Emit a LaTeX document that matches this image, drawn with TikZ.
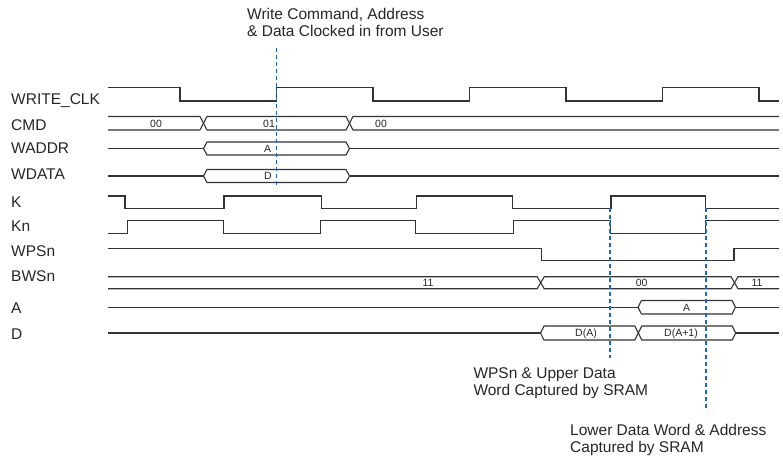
\documentclass[tikz,border=0pt]{standalone}
\usepackage{fontspec}
\setmainfont{Liberation Sans}
\definecolor{sigc}{HTML}{333333}
\definecolor{txtc}{HTML}{262626}
\definecolor{markc}{RGB}{25,105,195}
\newcommand{\hexbus}[4]{% x1, x2, ytop, ybot : closed bus segment
  \draw[sig] (#1,{(#3+#4)/2}) -- ({#1+3.5},#3) -- ({#2-3.5},#3) -- (#2,{(#3+#4)/2})
    -- ({#2-3.5},#4) -- ({#1+3.5},#4) -- cycle;}
\newcommand{\lbus}[4]{% open at left
  \draw[sig] (#1,#3) -- ({#2-3.5},#3) -- (#2,{(#3+#4)/2}) -- ({#2-3.5},#4) -- (#1,#4);}
\newcommand{\rbus}[4]{% open at right
  \draw[sig] (#2,#3) -- ({#1+3.5},#3) -- (#1,{(#3+#4)/2}) -- ({#1+3.5},#4) -- (#2,#4);}
\begin{document}
\begin{tikzpicture}[x=1pt,y=-1pt,
  sig/.style={draw=sigc, line width=1.1pt, line join=miter},
  lbl/.style={anchor=base west, inner sep=0pt, text=txtc, font=\fontsize{15.5}{17}\selectfont},
  note/.style={anchor=base west, inner sep=0pt, text=txtc, font=\fontsize{15.5}{17}\selectfont},
  blbl/.style={anchor=base, inner sep=0pt, text=txtc, font=\fontsize{10.5}{12}\selectfont},
  marker/.style={draw=markc, line width=1.3pt, dash pattern=on 4pt off 3pt}]
\useasboundingbox (0,0) rectangle (783,456);

% ---------- signal names ----------
\node[lbl] (nclk)  at (11,104.5) {WRITE\_CLK};
\node[lbl] (ncmd)  at (11,130.5) {CMD};
\node[lbl] (nwad)  at (11,153.5) {WADDR};
\node[lbl] (nwda)  at (11,179)   {WDATA};
\node[lbl] (nk)    at (11,207.3) {K};
\node[lbl] (nkn)   at (11,231.5) {Kn};
\node[lbl] (nwps)  at (11,256.5) {WPSn};
\node[lbl] (nbws)  at (11,281)   {BWSn};
\node[lbl] (na)    at (11,313.5) {A};
\node[lbl] (nd)    at (11,339)   {D};

% ---------- WRITE_CLK ----------
\draw[sig] (108,87.5) -- (180,87.5) -- (180,101) -- (276.5,101) -- (276.5,87.5)
  -- (373,87.5) -- (373,101) -- (469.5,101) -- (469.5,87.5) -- (566,87.5)
  -- (566,101) -- (662.5,101) -- (662.5,87.5) -- (759,87.5) -- (759,101) -- (779,101);

% ---------- CMD ----------
\lbus{108}{203.5}{116.5}{130}
\hexbus{203.5}{349.5}{116.5}{130}
\rbus{349.5}{779}{116.5}{130}
\node[blbl] (c0) at (156,127) {00};
\node[blbl] (c1) at (269,127) {01};
\node[blbl] (c2) at (381,127) {00};

% ---------- WADDR ----------
\draw[sig] (108,148.5) -- (203.5,148.5);
\hexbus{203.5}{349.5}{142}{155}
\draw[sig] (349.5,148.5) -- (779,148.5);
\node[blbl] (wa) at (267.5,152.3) {A};

% ---------- WDATA ----------
\draw[sig] (108,176) -- (203.5,176);
\hexbus{203.5}{349.5}{169.5}{182.5}
\draw[sig] (349.5,176) -- (779,176);
\node[blbl] (wd) at (268,179.8) {D};

% ---------- K ----------
\draw[sig] (108,196) -- (125,196) -- (125,208.5) -- (224,208.5) -- (224,196)
  -- (321.5,196) -- (321.5,208.5) -- (416.5,208.5) -- (416.5,196) -- (512.5,196)
  -- (512.5,208.5) -- (611,208.5) -- (611,196) -- (705.7,196) -- (705.7,208.5) -- (779,208.5);

% ---------- Kn ----------
\draw[sig] (108,233.5) -- (127.5,233.5) -- (127.5,220.7) -- (223.5,220.7) -- (223.5,233.5)
  -- (320.7,233.5) -- (320.7,220.7) -- (415.7,220.7) -- (415.7,233.5) -- (513.3,233.5)
  -- (513.3,220.7) -- (610.7,220.7) -- (610.7,233.5) -- (705.7,233.5) -- (705.7,220.7) -- (779,220.7);

% ---------- WPSn ----------
\draw[sig] (108,248.7) -- (541.5,248.7) -- (541.5,260.7) -- (734,260.7) -- (734,248.7) -- (779,248.7);

% ---------- BWSn ----------
\lbus{108}{540.7}{276.7}{288.7}
\hexbus{540.7}{734.5}{276.7}{288.7}
\rbus{734.5}{779}{276.7}{288.7}
\node[blbl] (b0) at (428,286.5) {11};
\node[blbl] (b1) at (641.7,286.5) {00};
\node[blbl] (b2) at (757,286.5) {11};

% ---------- A ----------
\draw[sig] (108,307.3) -- (638,307.3);
\hexbus{638}{735.5}{300.5}{314}
\draw[sig] (735.5,307.3) -- (779,307.3);
\node[blbl] (aa) at (686.7,311) {A};

% ---------- D ----------
\draw[sig] (108,333) -- (540.5,333);
\hexbus{540.5}{638.3}{326}{340}
\hexbus{638.3}{735.7}{326}{340}
\draw[sig] (735.7,333) -- (779,333);
\node[blbl] (d0) at (586,336.8) {D(A)};
\node[blbl] (d1) at (681,336.8) {D(A+1)};

% ---------- markers ----------
\coordinate (m1t) at (276.7,48);
\coordinate (m1b) at (276.7,187);
\coordinate (m2t) at (610,208);
\coordinate (m2b) at (610,358);
\coordinate (m3t) at (706,208);
\coordinate (m3b) at (706,408);
\draw[marker] (m1t) -- (m1b);
\draw[marker] (m2t) -- (m2b);
\draw[marker] (m3t) -- (m3b);

% ---------- annotations ----------
\node[note] (t1a) at (247,19.5)   {Write Command, Address};
\node[note] (t1b) at (247,36.5)   {\& Data Clocked in from User};
\node[note] (t2a) at (473.3,378.3) {WPSn \& Upper Data};
\node[note] (t2b) at (473.3,395)   {Word Captured by SRAM};
\node[note] (t3a) at (570,435.7)   {Lower Data Word \& Address};
\node[note] (t3b) at (570,452.3)   {Captured by SRAM};
\end{tikzpicture}
\end{document}
